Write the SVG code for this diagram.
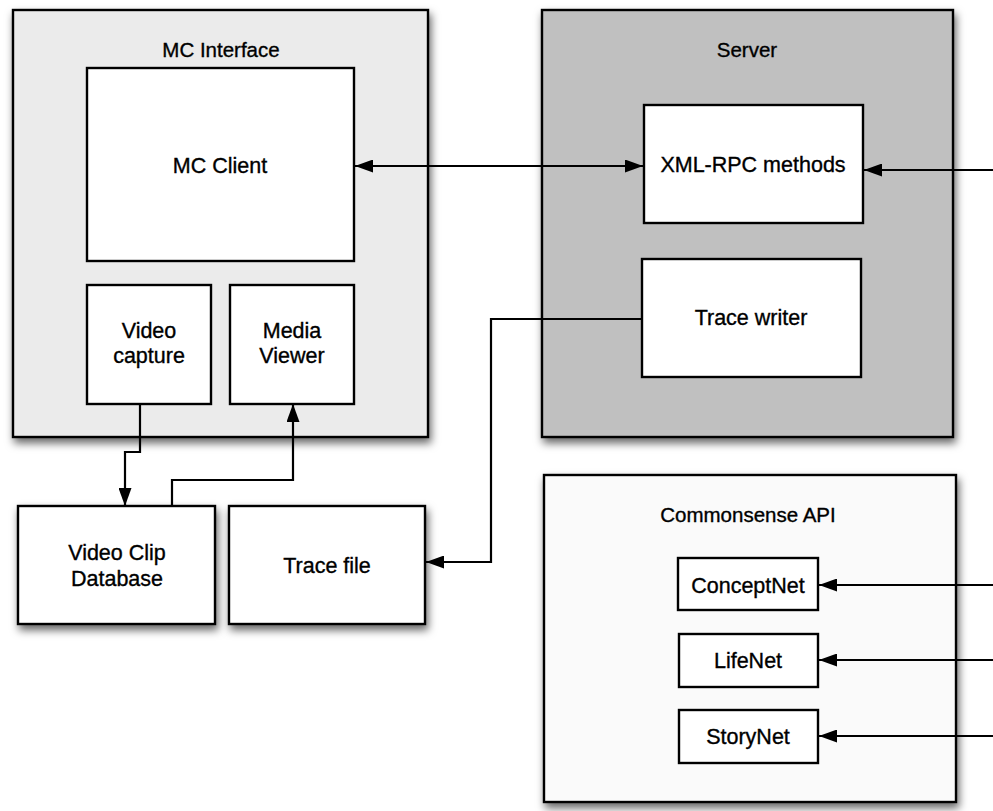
<svg xmlns="http://www.w3.org/2000/svg" width="993" height="811" viewBox="0 0 993 811">
  <defs>
    <filter id="shadow" x="-10%" y="-10%" width="125%" height="125%">
      <feDropShadow dx="2" dy="5" stdDeviation="4" flood-color="#000" flood-opacity="0.6"/>
    </filter>
    <marker id="arrow" viewBox="0 0 18 13" refX="18" refY="6.5" markerWidth="18" markerHeight="13" markerUnits="userSpaceOnUse" orient="auto-start-reverse">
      <path d="M0,0 L18,6.5 L0,13 Z" fill="#000"/>
    </marker>
    <style>
      .frame { stroke: #000; stroke-width: 2.4; }
      .container { filter: url(#shadow); }
      .box { fill: #fff; }
      text { font-family: "Liberation Sans", Arial, Helvetica, sans-serif; font-size: 21.5px; fill: #000; stroke: #000; stroke-width: 0.35; text-anchor: middle; }
      .title { font-size: 20.5px; }
      .conn { fill: none; stroke: #000; stroke-width: 2.2; }
    </style>
  </defs>
  <rect width="993" height="811" fill="#fff"/>

  <!-- MC Interface container -->
  <g id="mc-interface">
    <rect class="frame container" x="13" y="10" width="415" height="427" fill="#ebebeb"/>
    <text class="title" x="221" y="57">MC Interface</text>
  </g>
  <g id="mc-client">
    <rect class="frame box" x="87" y="68" width="267" height="193"/>
    <text x="220" y="173">MC Client</text>
  </g>
  <g id="video-capture">
    <rect class="frame box" x="87" y="285" width="124" height="119"/>
    <text x="149" y="338">Video</text>
    <text x="149" y="363">capture</text>
  </g>
  <g id="media-viewer">
    <rect class="frame box" x="230" y="285" width="124" height="119"/>
    <text x="292" y="338">Media</text>
    <text x="292" y="363">Viewer</text>
  </g>

  <!-- Server container -->
  <g id="server">
    <rect class="frame container" x="542" y="10" width="411" height="427" fill="#c0c0c0"/>
    <text class="title" x="747" y="57">Server</text>
  </g>
  <g id="xml-rpc">
    <rect class="frame box" x="644" y="105" width="219" height="118"/>
    <text x="753" y="172">XML-RPC methods</text>
  </g>
  <g id="trace-writer">
    <rect class="frame box" x="642" y="259" width="219" height="118"/>
    <text x="751" y="325">Trace writer</text>
  </g>

  <!-- Storage -->
  <g id="video-clip-db">
    <rect class="frame box container" x="18" y="506" width="197" height="118"/>
    <text x="117" y="560">Video Clip</text>
    <text x="117" y="586">Database</text>
  </g>
  <g id="trace-file">
    <rect class="frame box container" x="229" y="506" width="196" height="118"/>
    <text x="327" y="573">Trace file</text>
  </g>

  <!-- Commonsense API container -->
  <g id="commonsense-api">
    <rect class="frame container" x="544" y="475" width="412" height="327" fill="#fafafa"/>
    <text class="title" x="748" y="522">Commonsense API</text>
  </g>
  <g id="conceptnet">
    <rect class="frame box" x="678" y="558" width="140" height="52"/>
    <text x="748" y="593">ConceptNet</text>
  </g>
  <g id="lifenet">
    <rect class="frame box" x="679" y="634" width="139" height="53"/>
    <text x="748" y="668">LifeNet</text>
  </g>
  <g id="storynet">
    <rect class="frame box" x="679" y="710" width="139" height="53"/>
    <text x="748" y="744">StoryNet</text>
  </g>

  <!-- Connectors -->
  <g id="connectors">
    <path class="conn" d="M355,166 L643,166" marker-start="url(#arrow)" marker-end="url(#arrow)"/>
    <path class="conn" d="M993,170 L864,170" marker-end="url(#arrow)"/>
    <path class="conn" d="M642,319 L491,319 L491,562 L426,562" marker-end="url(#arrow)"/>
    <path class="conn" d="M140,404 L140,452 L125,452 L125,506" marker-end="url(#arrow)"/>
    <path class="conn" d="M172,506 L172,480 L293,480 L293,404" marker-end="url(#arrow)"/>
    <path class="conn" d="M993,585 L819,585" marker-end="url(#arrow)"/>
    <path class="conn" d="M993,660 L819,660" marker-end="url(#arrow)"/>
    <path class="conn" d="M993,736 L819,736" marker-end="url(#arrow)"/>
  </g>
</svg>
